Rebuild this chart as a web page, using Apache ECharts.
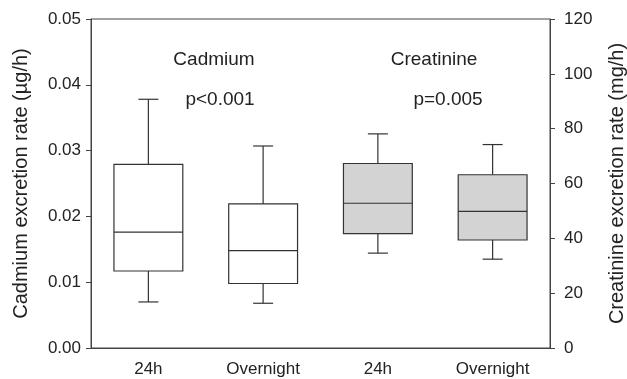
<!DOCTYPE html>
<html>
<head>
<meta charset="utf-8">
<script src="https://cdn.jsdelivr.net/npm/echarts@6/dist/echarts.min.js"></script>
<style>
  html, body { margin: 0; padding: 0; background: #fff; }
  #main { width: 627px; height: 379px; }
</style>
</head>
<body>
<div id="main"></div>
<script>
var categories = ['24h', 'Overnight', '24h', 'Overnight'];
// [min, q1, median, q3, max]
var cadmium = [
    [0.0070, 0.0117, 0.0176, 0.0279, 0.0378],
    [0.0068, 0.0098, 0.0148, 0.0219, 0.0307]
];
var creatinine = [
    [34.6, 41.7, 52.8, 67.3, 78.1],
    [32.4, 39.4, 49.8, 63.2, 74.2]
];
var cadmiumTicks = [0, 0.05, 0.01];
var creatinineTicks = [0, 120, 20];

var FONT = '"Liberation Sans", Arial, sans-serif';
var LINE = '#333';

function renderBox(params, api) {
    var x = api.value(0);
    var low = api.coord([x, api.value(1)]);
    var q1 = api.coord([x, api.value(2)]);
    var med = api.coord([x, api.value(3)]);
    var q3 = api.coord([x, api.value(4)]);
    var high = api.coord([x, api.value(5)]);
    var bw = api.size([1, 0])[0] * 0.6;
    var cap = 20;
    var cx = med[0];
    var lineStyle = { stroke: LINE, lineWidth: 1.2 };
    var fill = params.seriesIndex === 1 ? '#d3d3d3' : '#fff';
    return {
        type: 'group',
        children: [
            { type: 'line', shape: { x1: cx, y1: high[1], x2: cx, y2: q3[1] }, style: lineStyle },
            { type: 'line', shape: { x1: cx, y1: q1[1], x2: cx, y2: low[1] }, style: lineStyle },
            { type: 'line', shape: { x1: cx - cap / 2, y1: high[1], x2: cx + cap / 2, y2: high[1] }, style: lineStyle },
            { type: 'line', shape: { x1: cx - cap / 2, y1: low[1], x2: cx + cap / 2, y2: low[1] }, style: lineStyle },
            { type: 'rect', shape: { x: cx - bw / 2, y: q3[1], width: bw, height: q1[1] - q3[1] },
              style: { fill: fill, stroke: LINE, lineWidth: 1.2 } },
            { type: 'line', shape: { x1: cx - bw / 2, y1: med[1], x2: cx + bw / 2, y2: med[1] }, style: lineStyle }
        ]
    };
}

function yAxis(name, ticks, digits, pos, gap, margin) {
    return {
        type: 'value',
        position: pos,
        min: ticks[0],
        max: ticks[1],
        interval: ticks[2],
        name: name,
        nameLocation: 'middle',
        nameGap: gap,
        nameTextStyle: { fontFamily: FONT, fontSize: 20, color: '#222' },
        axisLine: { show: true, lineStyle: { color: '#444' } },
        axisTick: { show: true, length: 5, lineStyle: { color: '#444' } },
        axisLabel: {
            fontFamily: FONT, fontSize: 17, color: '#222', margin: margin,
            formatter: function (v) { return v.toFixed(digits); }
        },
        splitLine: { show: false }
    };
}

var chart = echarts.init(document.getElementById('main'));

chart.setOption({
    animation: false,
    grid: {
        left: 91, right: 77, top: 19, bottom: 31,
        outerBoundsMode: 'none', containLabel: false,
        show: true, borderColor: '#444', borderWidth: 1
    },
    xAxis: {
        type: 'category',
        data: categories,
        axisLine: { lineStyle: { color: '#444' } },
        axisTick: { alignWithLabel: true, length: 5, lineStyle: { color: '#444' } },
        axisLabel: { fontFamily: FONT, fontSize: 17, color: '#222', margin: 13 }
    },
    yAxis: [
        yAxis('Cadmium excretion rate (\u00b5g/h)', cadmiumTicks, 2, 'left', 60, 10),
        yAxis('Creatinine excretion rate (mg/h)', creatinineTicks, 0, 'right', 57, 14)
    ],
    graphic: [
        { type: 'text', x: 214, y: 60, style: { text: 'Cadmium', font: '19px ' + FONT, fill: '#222', align: 'center', verticalAlign: 'middle' } },
        { type: 'text', x: 220, y: 100, style: { text: 'p<0.001', font: '19px ' + FONT, fill: '#222', align: 'center', verticalAlign: 'middle' } },
        { type: 'text', x: 434, y: 60, style: { text: 'Creatinine', font: '19px ' + FONT, fill: '#222', align: 'center', verticalAlign: 'middle' } },
        { type: 'text', x: 448, y: 100, style: { text: 'p=0.005', font: '19px ' + FONT, fill: '#222', align: 'center', verticalAlign: 'middle' } }
    ],
    series: [{
        type: 'custom',
        name: 'Cadmium',
        yAxisIndex: 0,
        renderItem: renderBox,
        encode: { x: 0, y: [1, 2, 3, 4, 5] },
        data: cadmium.map(function (d, i) { return [i].concat(d); })
    }, {
        type: 'custom',
        name: 'Creatinine',
        yAxisIndex: 1,
        renderItem: renderBox,
        encode: { x: 0, y: [1, 2, 3, 4, 5] },
        data: creatinine.map(function (d, i) { return [i + 2].concat(d); })
    }]
});
</script>
</body>
</html>
